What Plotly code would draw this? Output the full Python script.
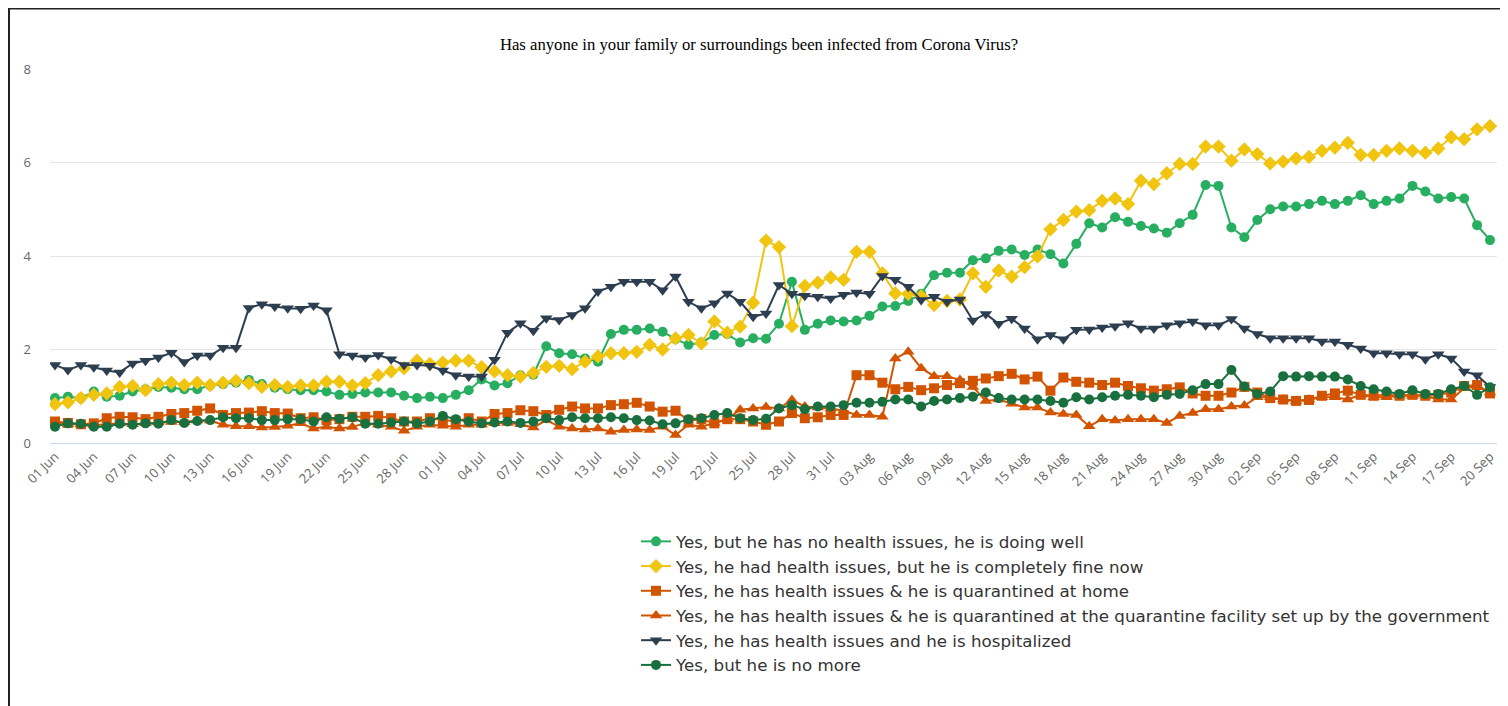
import pandas as pd
import plotly.graph_objects as go

dates = pd.date_range("2020-06-01", "2020-09-20", freq="D")

no_issues = [0.96,0.99,0.96,1.10,0.99,1.01,1.10,1.15,1.20,1.18,1.15,1.15,1.23,1.26,1.29,1.35,1.26,1.18,1.15,
             1.13,1.13,1.10,1.03,1.05,1.08,1.08,1.08,1.01,0.96,0.99,0.96,1.03,1.13,1.36,1.23,1.28,1.45,1.46,
             2.07,1.92,1.90,1.81,1.74,2.33,2.42,2.42,2.45,2.38,2.22,2.10,2.15,2.31,2.33,2.15,2.24,2.23,
             2.55,3.45,2.42,2.55,2.62,2.60,2.62,2.72,2.92,2.93,3.04,3.19,3.59,3.64,3.64,3.91,3.95,4.11,4.14,
             4.02,4.14,4.04,3.84,4.26,4.70,4.61,4.83,4.73,4.64,4.59,4.50,4.70,4.88,5.52,5.50,4.61,4.40,
             4.77,5.00,5.06,5.06,5.11,5.18,5.11,5.18,5.30,5.11,5.18,5.23,5.50,5.38,5.23,5.26,5.23,4.66,4.34]

fine_now = [0.83,0.87,0.96,1.03,1.06,1.20,1.22,1.13,1.26,1.29,1.24,1.29,1.24,1.29,1.33,1.28,1.20,1.24,1.20,
            1.23,1.23,1.31,1.31,1.23,1.28,1.45,1.53,1.60,1.76,1.69,1.72,1.76,1.76,1.62,1.53,1.45,1.42,1.50,
            1.63,1.65,1.58,1.74,1.85,1.92,1.92,1.95,2.10,2.00,2.24,2.31,2.13,2.60,2.36,2.49,3.00,4.33,
            4.19,2.50,3.36,3.43,3.54,3.49,4.09,4.09,3.63,3.20,3.19,3.14,2.95,3.04,3.07,3.63,3.34,3.69,3.56,
            3.76,3.99,4.57,4.77,4.95,4.98,5.18,5.23,5.11,5.61,5.54,5.77,5.97,5.97,6.34,6.34,6.04,6.28,
            6.18,5.98,6.02,6.09,6.12,6.25,6.32,6.42,6.16,6.16,6.25,6.30,6.25,6.21,6.30,6.54,6.50,6.71,6.78]

home = [0.46,0.43,0.40,0.42,0.53,0.56,0.55,0.51,0.56,0.62,0.64,0.69,0.74,0.60,0.64,0.65,0.68,0.64,0.63,
        0.53,0.55,0.49,0.51,0.56,0.56,0.58,0.53,0.46,0.46,0.53,0.49,0.46,0.53,0.46,0.62,0.64,0.70,0.68,
        0.60,0.71,0.78,0.74,0.74,0.81,0.83,0.86,0.78,0.67,0.69,0.48,0.51,0.42,0.51,0.51,0.46,0.39,
        0.46,0.64,0.53,0.55,0.60,0.60,1.45,1.45,1.29,1.15,1.20,1.13,1.17,1.24,1.28,1.33,1.38,1.43,1.48,
        1.36,1.42,1.12,1.40,1.31,1.29,1.24,1.29,1.22,1.17,1.12,1.15,1.19,1.06,1.01,1.01,1.08,1.20,
        1.08,0.96,0.93,0.90,0.92,1.01,1.06,1.12,1.03,1.01,1.03,1.01,1.03,1.01,1.03,1.08,1.22,1.24,1.06]

facility = [0.42,0.40,0.40,0.38,0.40,0.42,0.40,0.42,0.44,0.45,0.45,0.48,0.48,0.39,0.36,0.36,0.33,0.34,0.37,
            0.42,0.31,0.35,0.31,0.34,0.43,0.39,0.35,0.26,0.35,0.39,0.37,0.35,0.39,0.39,0.42,0.43,0.40,0.33,
            0.49,0.35,0.31,0.29,0.31,0.24,0.28,0.29,0.28,0.35,0.17,0.39,0.35,0.43,0.51,0.71,0.74,0.77,
            0.74,0.92,0.78,0.76,0.74,0.69,0.60,0.60,0.56,1.81,1.95,1.60,1.43,1.43,1.35,1.20,0.90,0.93,0.84,
            0.76,0.76,0.65,0.62,0.60,0.36,0.51,0.48,0.51,0.51,0.51,0.43,0.58,0.64,0.72,0.72,0.78,0.80,
            0.98,0.98,0.93,0.90,0.93,0.98,0.98,0.93,1.03,0.98,0.98,1.01,1.01,1.01,0.93,0.93,1.17,1.22,1.08]

hospitalized = [1.67,1.56,1.67,1.62,1.55,1.51,1.70,1.76,1.83,1.93,1.73,1.87,1.87,2.04,2.04,2.89,2.97,2.92,2.88,
                2.87,2.94,2.84,1.90,1.87,1.83,1.88,1.79,1.67,1.67,1.65,1.55,1.45,1.42,1.42,1.78,2.36,2.56,2.40,
                2.67,2.63,2.74,2.88,3.24,3.34,3.45,3.45,3.45,3.27,3.56,3.02,2.88,2.99,3.20,3.02,2.70,2.77,
                3.38,3.19,3.15,3.13,3.09,3.17,3.22,3.19,3.57,3.49,3.34,3.06,3.13,3.02,3.07,2.62,2.76,2.55,2.66,
                2.45,2.22,2.31,2.22,2.42,2.43,2.47,2.50,2.56,2.45,2.45,2.52,2.56,2.60,2.52,2.52,2.65,2.45,
                2.33,2.24,2.24,2.24,2.24,2.17,2.17,2.10,2.02,1.92,1.92,1.90,1.90,1.79,1.90,1.81,1.53,1.45,1.20]

no_more = [0.35,0.42,0.41,0.35,0.35,0.41,0.39,0.42,0.41,0.49,0.43,0.47,0.49,0.55,0.53,0.53,0.49,0.49,0.51,
           0.51,0.46,0.55,0.52,0.55,0.41,0.41,0.44,0.46,0.42,0.46,0.58,0.51,0.46,0.42,0.44,0.46,0.43,0.46,
           0.53,0.49,0.55,0.53,0.53,0.55,0.53,0.49,0.48,0.40,0.42,0.51,0.53,0.60,0.64,0.53,0.49,0.52,
           0.74,0.81,0.72,0.78,0.78,0.81,0.86,0.86,0.88,0.93,0.93,0.78,0.90,0.93,0.96,0.99,1.08,0.96,0.93,
           0.93,0.93,0.90,0.86,0.98,0.93,0.98,1.01,1.03,1.01,0.98,1.03,1.05,1.13,1.26,1.26,1.56,1.21,
           1.05,1.10,1.43,1.42,1.43,1.42,1.42,1.36,1.22,1.15,1.10,1.05,1.13,1.05,1.05,1.15,1.22,1.03,1.19]

series = [
    ("Yes, but he has no health issues, he is doing well", no_issues, "#27ae60", "circle", 10),
    ("Yes, he had health issues, but he is completely fine now", fine_now, "#f1c40f", "diamond", 11),
    ("Yes, he has health issues & he is quarantined at home", home, "#d35400", "square", 10),
    ("Yes, he has health issues & he is quarantined at the quarantine facility set up by the government", facility, "#d35400", "triangle-up", 11),
    ("Yes, he has health issues and he is hospitalized", hospitalized, "#2c3e50", "triangle-down", 11),
    ("Yes, but he is no more", no_more, "#196f3d", "circle", 10),
]

fig = go.Figure()
for name, vals, color, sym, size in series:
    fig.add_trace(go.Scatter(
        x=dates, y=vals, name=name, mode="lines+markers",
        line=dict(color=color, width=2),
        marker=dict(symbol=sym, size=size, color=color),
    ))

# page offset (body margin) of 8px is compensated below
OFF = 8
W, H = 1500, 698
L, T = 50 - OFF, 69 - OFF
R = W - (1497 - OFF)
B = H - (443 - OFF)
pw, ph = W - L - R, H - T - B

def px(x):  # reference-screen x -> paper
    return (x - OFF - L) / pw

def py(y):  # reference-screen y -> paper
    return (H - B - (y - OFF)) / ph

fig.update_layout(
    width=W, height=H,
    margin=dict(l=L, r=R, t=T, b=B, autoexpand=False),
    paper_bgcolor="white", plot_bgcolor="white",
    title=dict(text="Has anyone in your family or surroundings been infected from Corona Virus?",
               font=dict(family="Liberation Serif", size=16.7, color="#000000"),
               x=(759 - OFF) / W, xref="container", xanchor="center",
               y=1 - (44 - OFF) / H, yref="container", yanchor="middle"),
    legend=dict(x=px(636), y=py(524), xanchor="left", yanchor="top",
                font=dict(family="DejaVu Sans", size=16.7, color="#333333"),
                tracegroupgap=0, itemwidth=30, bgcolor="rgba(0,0,0,0)"),
    showlegend=True,
    hovermode="x",
)

fig.update_xaxes(
    type="date",
    range=[pd.Timestamp("2020-06-01") - pd.Timedelta(hours=9.3), pd.Timestamp("2020-09-20") + pd.Timedelta(hours=13)],
    tick0="2020-06-01", dtick=3 * 86400000, tickformat="%d %b", tickangle=-45,
    tickfont=dict(family="Open Sans", size=13, color="#666666"),
    showgrid=False, showline=True, linecolor="#ccd6eb", linewidth=1,
    ticks="", zeroline=False,
)
fig.update_yaxes(
    range=[0, 8], dtick=2, showgrid=True, gridcolor="#e6e6e6", gridwidth=1,
    zeroline=False, showline=False, ticks="", ticklabelstandoff=18,
    tickfont=dict(family="Open Sans", size=13, color="#666666"),
)

# outer frame lines (top and left)
fig.add_shape(type="line", xref="paper", yref="paper", x0=px(OFF), x1=px(1508), y0=py(8.5), y1=py(8.5),
              line=dict(color="#222222", width=2))
fig.add_shape(type="line", xref="paper", yref="paper", x0=px(9), x1=px(9), y0=py(8.5), y1=py(706),
              line=dict(color="#222222", width=2))

fig.write_html("out.html")
